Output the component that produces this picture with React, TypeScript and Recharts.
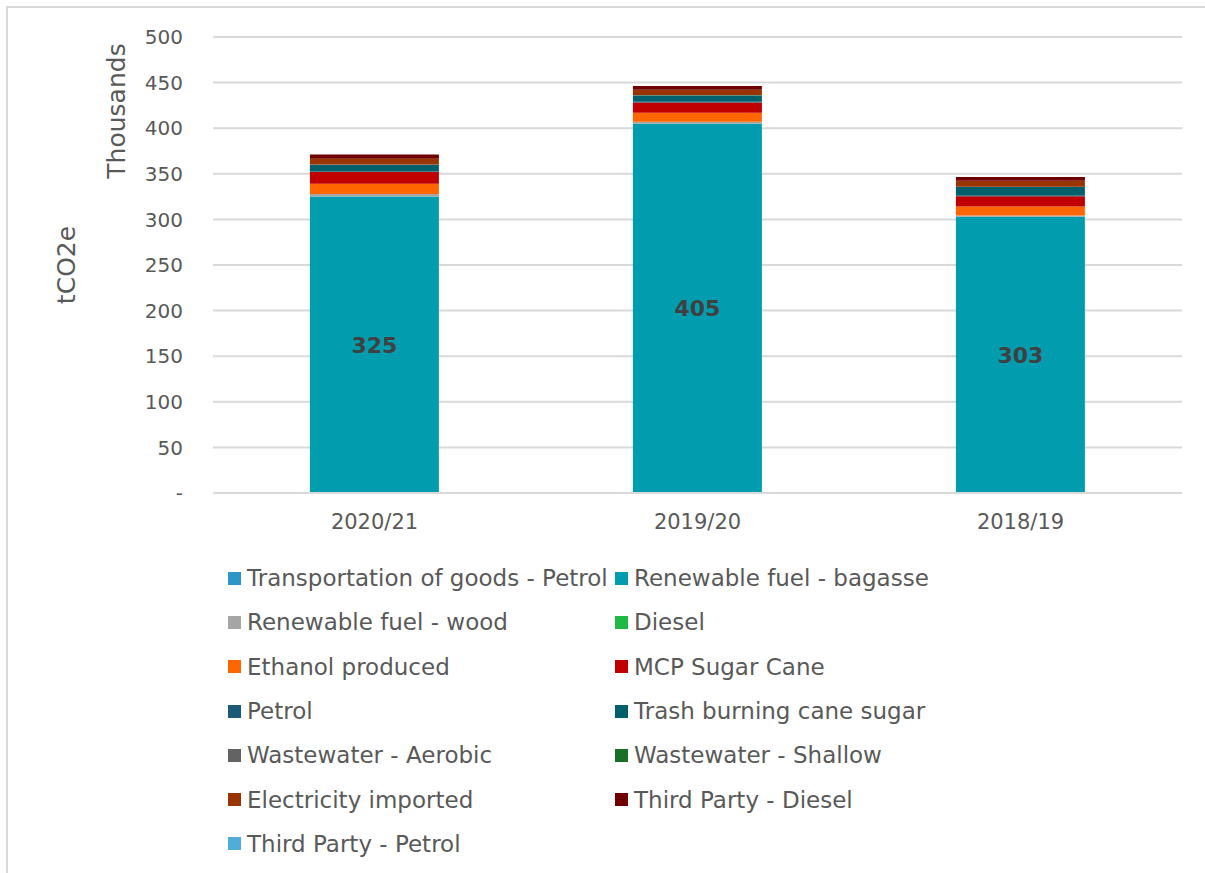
import React from "react";
import { Bar, BarChart, CartesianGrid, LabelList, Legend, XAxis, YAxis } from "recharts";

// tCO2e, thousands
const years = ["2020/21", "2019/20", "2018/19"];
const transportPetrol = [0, 0, 0];
const bagasse = [325, 405, 303];
const wood = [2.8, 2, 1.2];
const diesel = [0, 0, 0];
const ethanol = [11.2, 10, 10];
const mcpSugarCane = [13, 11.3, 11.2];
const petrol = [0.6, 0.6, 0.6];
const trashBurning = [7, 7, 9.4];
const wastewaterAerobic = [0.3, 0.3, 0.3];
const wastewaterShallow = [0.2, 0.2, 0.2];
const electricity = [6.5, 5.8, 6.5];
const thirdPartyDiesel = [4.6, 4, 4];
const thirdPartyPetrol = [0, 0, 0];

const yTicks = [0, 50, 100, 150, 200, 250, 300, 350, 400, 450, 500];

const series = [
  { key: "transportPetrol", name: "Transportation of goods - Petrol", color: "#2E95C7", values: transportPetrol },
  { key: "bagasse", name: "Renewable fuel - bagasse", color: "#019DAF", values: bagasse },
  { key: "wood", name: "Renewable fuel - wood", color: "#A5A5A5", values: wood },
  { key: "diesel", name: "Diesel", color: "#22B845", values: diesel },
  { key: "ethanol", name: "Ethanol produced", color: "#FF6600", values: ethanol },
  { key: "mcp", name: "MCP Sugar Cane", color: "#C00000", values: mcpSugarCane },
  { key: "petrol", name: "Petrol", color: "#1A5A78", values: petrol },
  { key: "trash", name: "Trash burning cane sugar", color: "#005F6B", values: trashBurning },
  { key: "wwAerobic", name: "Wastewater - Aerobic", color: "#636363", values: wastewaterAerobic },
  { key: "wwShallow", name: "Wastewater - Shallow", color: "#186F26", values: wastewaterShallow },
  { key: "electricity", name: "Electricity imported", color: "#993300", values: electricity },
  { key: "tpDiesel", name: "Third Party - Diesel", color: "#700000", values: thirdPartyDiesel },
  { key: "tpPetrol", name: "Third Party - Petrol", color: "#4FADDA", values: thirdPartyPetrol },
];

const data = years.map((year, i) => {
  const row: Record<string, any> = { year };
  series.forEach((s) => (row[s.key] = s.values[i]));
  return row;
});

const FONT = "'DejaVu Sans', sans-serif";
const TEXT = "#595959";

const renderLegend = () => (
  <div
    style={{
      display: "grid",
      gridTemplateColumns: "387px 420px",
      rowGap: 0,
      fontFamily: FONT,
      fontSize: 23,
      color: TEXT,
    }}
  >
    {series.map((s) => (
      <div key={s.key} style={{ display: "flex", alignItems: "center", height: 44.3, whiteSpace: "nowrap" }}>
        <span style={{ width: 13, height: 13, background: s.color, display: "inline-block", marginRight: 6 }} />
        {s.name}
      </div>
    ))}
  </div>
);

const axisTitles = () => (
  <g fontFamily={FONT} fill={TEXT} fontSize={25}>
    <text x={75} y={265} transform="rotate(-90 75 265)" textAnchor="middle">tCO2e</text>
    <text x={125} y={111} transform="rotate(-90 125 111)" textAnchor="middle">Thousands</text>
  </g>
);

export default function App() {
  return (
    <div style={{ position: "absolute", left: 0, top: 0, width: 1205, height: 873, overflow: "hidden", background: "#fff" }}>
      <div
        style={{
          position: "absolute",
          left: 6,
          top: 6,
          width: 1400,
          height: 1000,
          border: "2px solid #d9d9d9",
        }}
      />
      <BarChart
        width={1205}
        height={873}
        data={data}
        margin={{ top: 37, right: 23, left: 0, bottom: 340 }}
        barCategoryGap="30%"
        style={{ position: "absolute", left: 0, top: 0 }}
      >
        <CartesianGrid vertical={false} stroke="#d9d9d9" strokeWidth={2} />
        <XAxis
          dataKey="year"
          height={40}
          axisLine={{ stroke: "#d9d9d9", strokeWidth: 2 }}
          tickLine={false}
          tickSize={0}
          tickMargin={21}
          tick={{ fill: TEXT, fontSize: 21, fontFamily: FONT }}
        />
        <YAxis
          width={213}
          domain={[0, 500]}
          ticks={yTicks}
          interval={0}
          axisLine={false}
          tickLine={false}
          tickSize={0}
          tickMargin={30}
          tickFormatter={(v: number) => (v === 0 ? "-" : String(v))}
          tick={{ fill: TEXT, fontSize: 20, fontFamily: FONT }}
          label={axisTitles}
        />
        <Legend
          layout="horizontal"
          verticalAlign="middle"
          align="center"
          content={renderLegend}
          wrapperStyle={{ position: "absolute", top: 556, left: 228, width: 820 }}
        />
        {series.map((s) => (
          <Bar key={s.key} dataKey={s.key} name={s.name} stackId="a" fill={s.color} isAnimationActive={false}>
            {s.key === "bagasse" && (
              <LabelList
                dataKey="bagasse"
                position="center"
                formatter={(v: any) => Math.round(Number(v))}
                style={{ fill: "#404040", fontSize: 22, fontWeight: 700, fontFamily: FONT }}
              />
            )}
          </Bar>
        ))}
      </BarChart>
    </div>
  );
}
